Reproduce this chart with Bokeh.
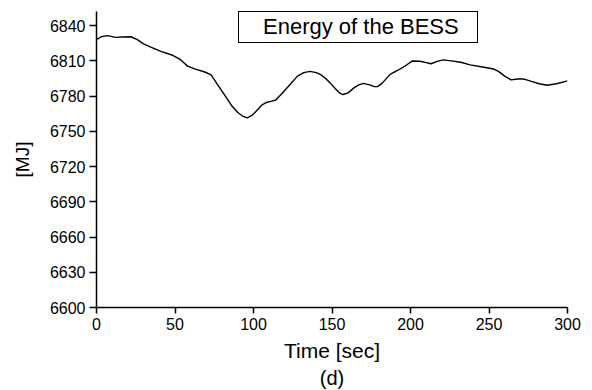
from bokeh.plotting import figure
from bokeh.models import (Range1d, FixedTicker, Legend, LegendItem, Title,
                          ColumnDataSource)
from bokeh.embed import file_html
from bokeh.resources import INLINE

# ---- data ----
time_sec = [0, 3, 7, 12, 17, 22, 26, 30, 35, 41, 48, 53, 58, 63, 69, 73, 77,
            81, 86, 90, 93, 96, 99, 102, 105, 108, 111, 114, 118, 123, 128,
            132, 136, 140, 143, 146, 149, 152, 155, 157, 160, 164, 167, 170,
            174, 177, 179, 182, 187, 192, 197, 201, 206, 210, 213, 217, 221,
            226, 232, 238, 245, 253, 256, 260, 264, 268, 272, 277, 282, 287,
            293, 300]
energy_mj = [6828, 6830.5, 6831.5, 6830, 6830.3, 6830.5, 6828, 6824.5, 6821.5,
             6818, 6815, 6811.5, 6805.5, 6803, 6800.5, 6798, 6790, 6782, 6772,
             6766, 6763, 6761.5, 6763.5, 6767.5, 6772, 6774.5, 6775.5, 6776.5,
             6782, 6789.5, 6797, 6800, 6801, 6800, 6798, 6795, 6791, 6786.5,
             6782.5, 6781.3, 6782.5, 6787, 6789.5, 6790.8, 6789.5, 6788, 6788,
             6791, 6798.5, 6802, 6806, 6809.8, 6809.6, 6808.5, 6807.5, 6809.5,
             6810.8, 6810, 6808.8, 6806.6, 6805, 6803, 6801, 6797, 6793.8,
             6794.5, 6794.6, 6792.5, 6790.5, 6789.2, 6790.5, 6793]
x_ticks = [0, 50, 100, 150, 200, 250, 300]
y_ticks = [6600, 6630, 6660, 6690, 6720, 6750, 6780, 6810, 6840]
series_name = "Energy of the BESS"
x_title = "Time [sec]"
y_title = "[MJ]"
caption = "(d)"

FONT = "Liberation Sans"

p = figure(width=592, height=390, output_backend="svg", toolbar_location=None,
           x_range=Range1d(0, 300), y_range=Range1d(6600, 6852))
p.min_border_left = 96
p.min_border_right = 25
p.min_border_top = 11
p.min_border_bottom = 83
p.outline_line_color = None
p.background_fill_color = "white"
p.border_fill_color = "white"
p.xgrid.visible = False
p.ygrid.visible = False

src = ColumnDataSource(dict(t=time_sec, e=energy_mj))
r = p.line("t", "e", source=src, line_color="black", line_width=1.4)

for ax, ticks in ((p.xaxis[0], x_ticks), (p.yaxis[0], y_ticks)):
    ax.ticker = FixedTicker(ticks=ticks)
    ax.minor_tick_line_color = None
    ax.major_tick_in = 0
    ax.axis_line_color = "black"
    ax.axis_line_width = 1.5
    ax.major_tick_line_color = "black"
    ax.major_tick_line_width = 1.5
    ax.major_label_text_font = FONT
    ax.major_label_text_font_size = "16px"
    ax.major_label_text_color = "black"
    ax.major_label_standoff = 4
    ax.axis_label_text_font = FONT
    ax.axis_label_text_font_style = "normal"
    ax.axis_label_text_color = "black"

p.xaxis[0].major_tick_out = 6
p.yaxis[0].major_tick_out = 7
p.xaxis[0].axis_label = x_title
p.xaxis[0].axis_label_text_font_size = "21px"
p.xaxis[0].axis_label_standoff = 6
p.yaxis[0].axis_label = y_title
p.yaxis[0].axis_label_text_font_size = "19px"
p.yaxis[0].axis_label_standoff = 14

p.add_layout(Title(text=caption, align="center", text_font=FONT,
                   text_font_size="20px", text_font_style="normal",
                   text_color="black", standoff=0, offset=0), "below")

legend = Legend(items=[LegendItem(label=series_name, renderers=[r])],
                location=(142, 264), glyph_width=0, glyph_height=20,
                label_standoff=22, label_width=212, padding=2, spacing=0,
                margin=0, border_line_color="black", border_line_width=1,
                border_line_alpha=1, label_text_font=FONT,
                label_text_font_size="22px", label_text_color="black",
                background_fill_alpha=1)
p.add_layout(legend)

open("out.html", "w").write(file_html(p, INLINE))
